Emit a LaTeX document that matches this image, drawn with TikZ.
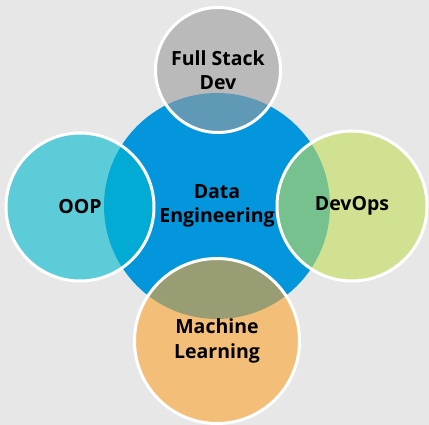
\documentclass[tikz,border=0pt]{standalone}
\usepackage{fontspec}
\setmainfont{Open Sans}
\definecolor{bg}{RGB}{231,231,231}
\definecolor{deblue}{RGB}{4,150,220}
\definecolor{fsgray}{RGB}{156,156,156}
\definecolor{oopcyan}{RGB}{0,186,207}
\definecolor{dogreen}{RGB}{195,222,90}
\definecolor{mlorange}{RGB}{251,163,46}
\begin{document}
\begin{tikzpicture}[x=1pt,y=-1pt,
  lbl/.style={font=\fontsize{19.5}{24.5}\selectfont\bfseries, text=black, align=center},
  sat/.style={circle, draw=white, line width=3pt, fill opacity=0.6, text opacity=1, inner sep=0pt, lbl}]
\fill[bg] (0,0) rectangle (429,425);
\useasboundingbox (0,0) rectangle (429,425);
\node[circle, fill=deblue, minimum size=226pt, inner sep=0pt, lbl] (de) at (217,206) {Data\\Engineering};
\node[sat, fill=fsgray, minimum size=125pt] (fs) at (218,70) {Full Stack\\Dev};
\node[sat, fill=oopcyan, minimum size=148pt] (oop) at (80,207) {OOP};
\node[sat, fill=dogreen, minimum size=150pt] (do) at (352,206) {DevOps};
\node[sat, fill=mlorange, minimum size=165pt] (ml) at (217,341) {Machine\\Learning};
\end{tikzpicture}
\end{document}
